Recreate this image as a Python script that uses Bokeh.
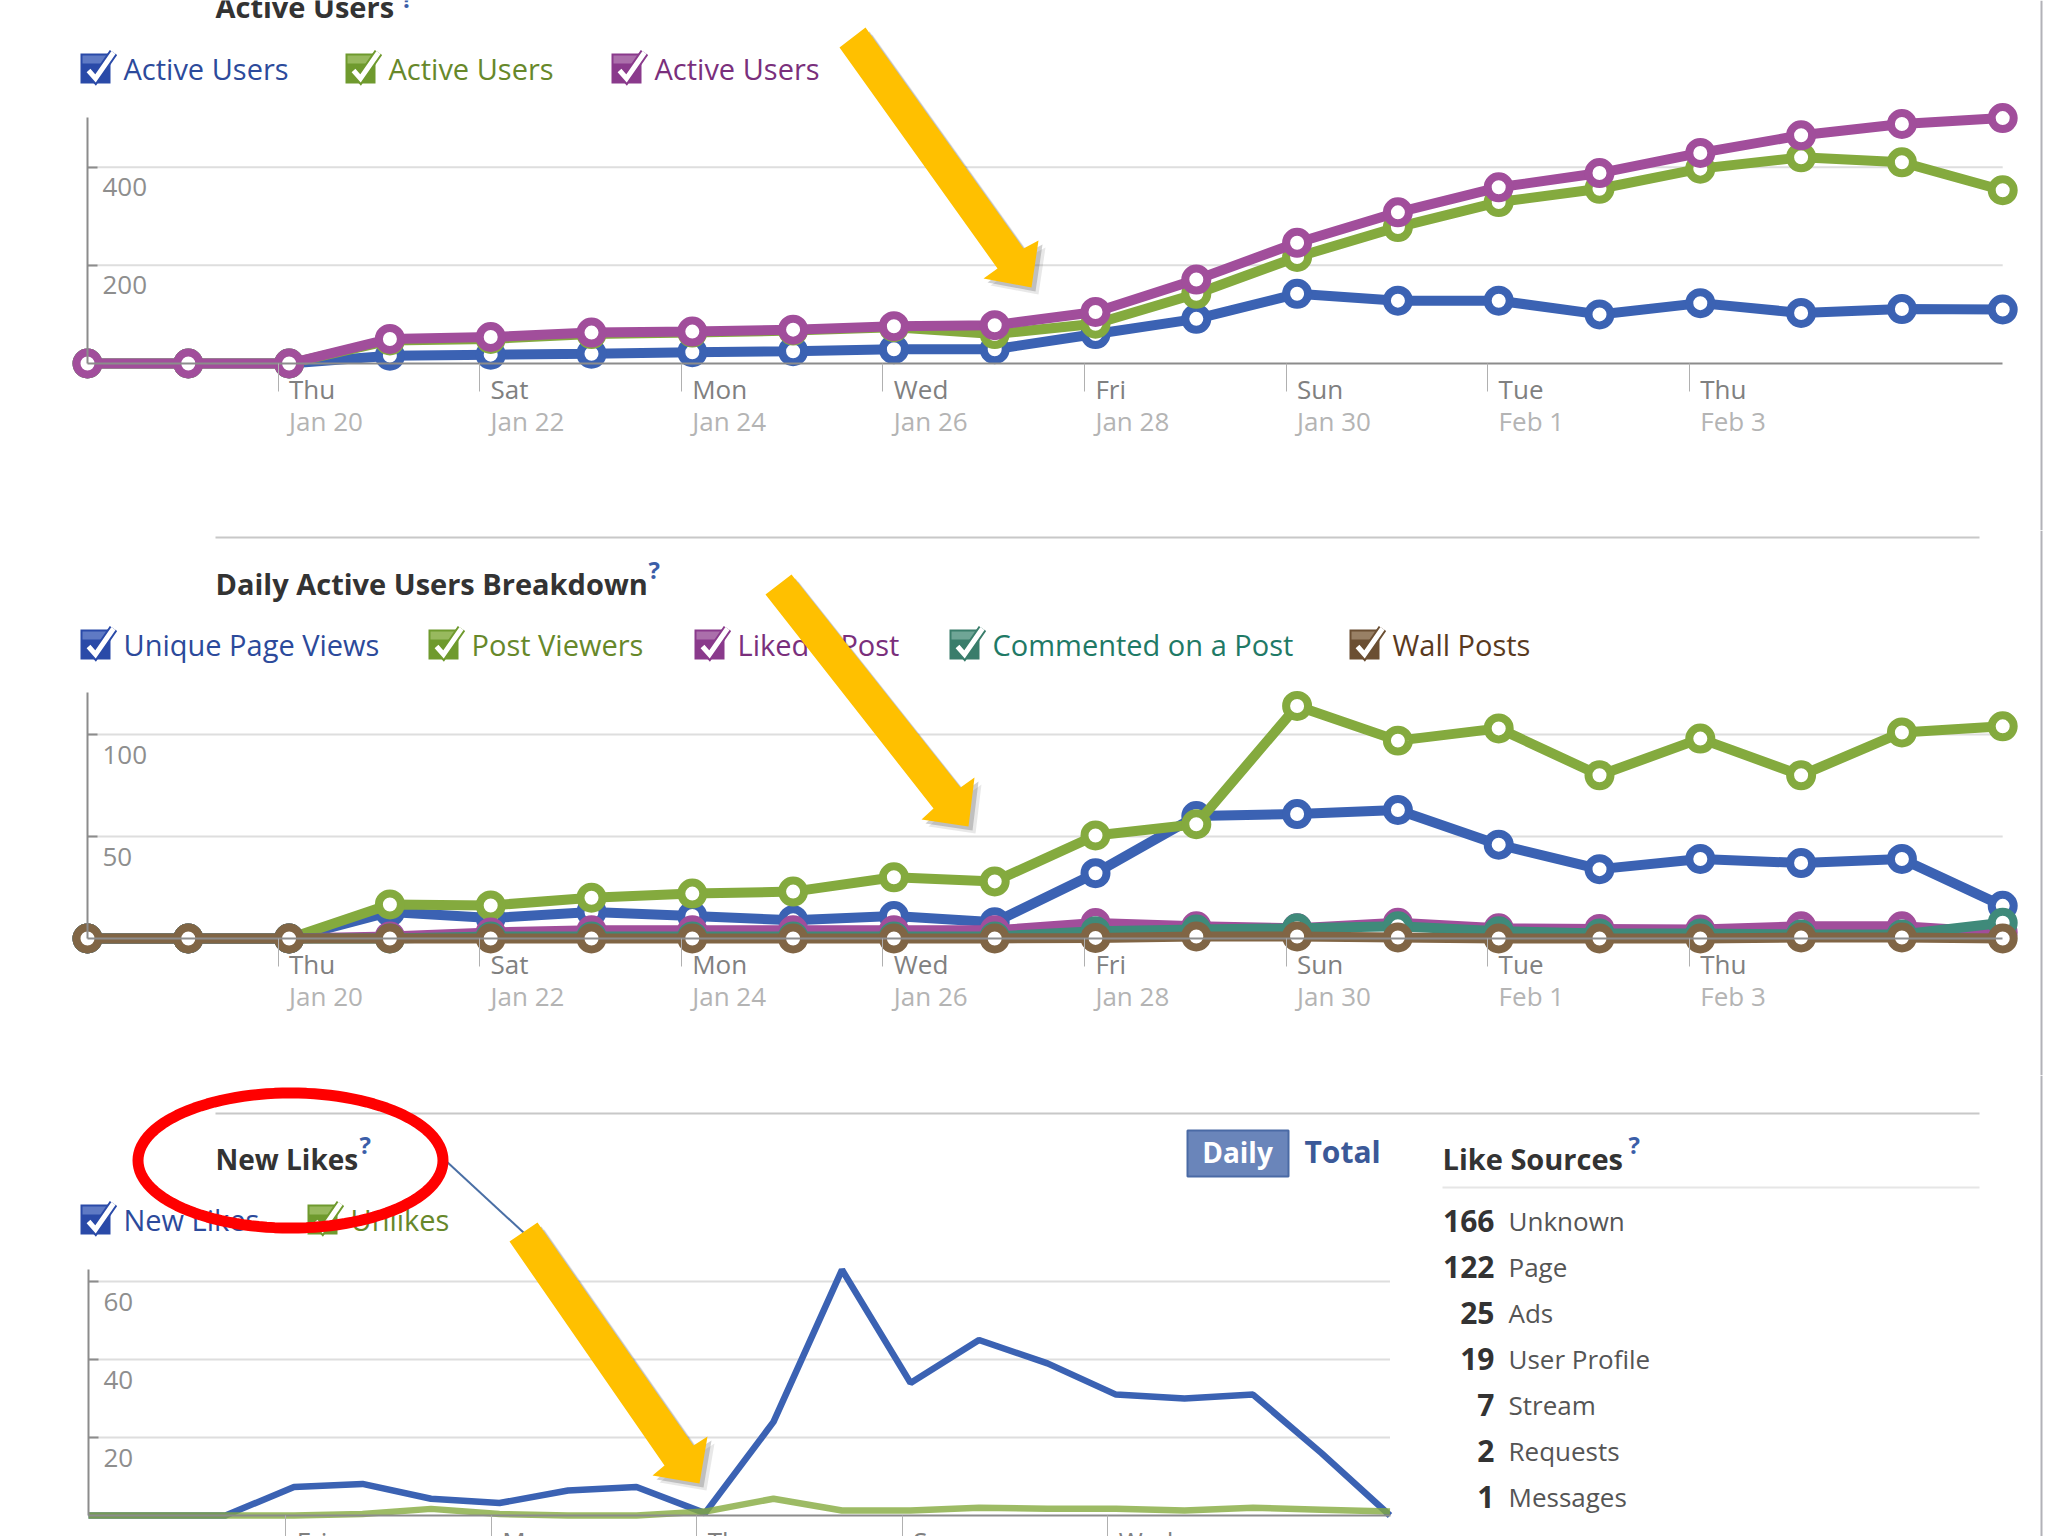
import numpy as np
from bokeh.core.properties import value
from bokeh.embed import file_html
from bokeh.layouts import column
from bokeh.models import FixedTicker, LinearAxis, Range1d
from bokeh.plotting import figure
from bokeh.resources import INLINE

# daily values, Jan 18 .. Feb 6
active_blue = [0, 0, 0, 16, 18, 20, 23, 25, 29, 29, 60, 91, 142, 128, 128, 100, 123, 103, 111, 110]
active_green = [0, 0, 0, 47, 50, 60, 63, 67, 74, 60, 81, 142, 217, 278, 329, 356, 397, 420, 410, 353]
active_purple = [0, 0, 0, 50, 54, 63, 65, 69, 76, 78, 105, 171, 246, 308, 359, 388, 429, 465, 488, 500]

views = [0, 0, 0, 13, 10, 13, 11, 9, 11, 8, 32, 60, 61, 63, 46, 34, 39, 37, 39, 16]
viewers = [0, 0, 0, 16.7, 16.2, 20, 22, 23, 30, 28, 50.5, 56, 114, 97, 103, 80, 98, 80, 101, 104]
liked = [0, 0, 0, 1, 3, 4, 4, 4, 4, 4, 7.6, 6, 5, 7.7, 5, 4.7, 4.4, 6, 6, 3]
commented = [0, 0, 0, 0, 1, 1, 1, 1, 1, 1, 3.6, 4.4, 5, 6, 3.6, 2.5, 2.5, 2, 2, 7.7]
wall = [0, 0, 0, 0, 0, 0, 0, 0, 0, 0, 0.3, 1, 1, 0.5, 0, 0, 0, 0.5, 0.5, 0]

new_likes = [0, 0, 0, 7.3, 8.1, 4.3, 3.2, 6.4, 7.3, 0.6, 24, 63, 34, 45, 39, 31, 30, 31, 16, 0]
unlikes = [0, 0, 0, 0, 0.4, 1.7, 0.4, 0, 0, 1, 4.3, 1.3, 1.3, 2, 1.7, 1.7, 1.3, 2, 1.5, 1]

days = list(range(20))
tick_days_a = [2, 4, 6, 8, 10, 12, 14, 16]
tick_names_a = ["Thu", "Sat", "Mon", "Wed", "Fri", "Sun", "Tue", "Thu"]
tick_dates_a = ["Jan 20", "Jan 22", "Jan 24", "Jan 26", "Jan 28", "Jan 30", "Feb 1", "Feb 3"]
tick_days_b = [3, 6, 9, 12, 15]
tick_names_b = ["Fri", "Mon", "Thu", "Sun", "Wed"]

source_counts = ["166", "122", "25", "19", "7", "2", "1"]
source_names = ["Unknown", "Page", "Ads", "User Profile", "Stream", "Requests", "Messages"]

BLUE = "#3b62b3"
GREEN = "#84aa3e"
PURPLE = "#a14e9b"
TEAL = "#3f8a7a"
BROWN = "#806545"
FONT = value("Open Sans")
WIDTH = 2048
PX = dict(x_range_name="px", y_range_name="px")


def panel(top, bottom, x0, dx, zero, k, yticks, ytop, tick_days, shift, tick_names, tick_dates):
    # frame fills the figure, ranges are set so the data lands where the screenshot has it
    p = figure(width=WIDTH, height=bottom - top, output_backend="svg", toolbar_location=None,
               x_axis_location=None, y_axis_location=None, min_border=0,
               x_range=Range1d(-x0 / dx, (WIDTH - x0) / dx),
               y_range=Range1d((zero - bottom) / k, (zero - top) / k))
    p.grid.visible = False
    p.outline_line_color = None
    p.background_fill_color = "white"
    p.border_fill_color = "white"
    p.extra_x_ranges = {"px": Range1d(0, WIDTH)}
    p.extra_y_ranges = {"px": Range1d(bottom, top)}

    p.segment(x0=[0] * len(yticks), x1=[19] * len(yticks), y0=yticks, y1=yticks,
              line_color="#dedede", line_width=2)
    ticks = [d + shift for d in tick_days]
    yaxis = LinearAxis(fixed_location=0, bounds=(0, ytop), ticker=FixedTicker(ticks=yticks),
                       axis_line_color="#8c8c8c", axis_line_width=2, major_tick_line_color="#8c8c8c",
                       major_tick_line_width=2, major_tick_in=10, major_tick_out=0,
                       major_label_text_color=None, minor_tick_line_color=None)
    xaxis = LinearAxis(fixed_location=0, bounds=(0, 19), ticker=FixedTicker(ticks=ticks),
                       axis_line_color="#8c8c8c", axis_line_width=2, major_tick_line_color="#b0b0b0",
                       major_tick_line_width=1, major_tick_in=0, major_tick_out=28,
                       major_label_text_color=None, minor_tick_line_color=None)
    p.add_layout(yaxis, "left")
    p.add_layout(xaxis, "below")

    p.text(x=[0] * len(yticks), y=yticks, text=[str(t) for t in yticks], x_offset=15, y_offset=20,
           text_font=FONT, text_font_size="26px", text_color="#8e8e8e", text_baseline="alphabetic")
    p.text(x=ticks, y=[0] * len(ticks), text=tick_names, x_offset=11, y_offset=25,
           text_font=FONT, text_font_size="26px", text_color="#808080", text_baseline="alphabetic")
    if tick_dates:
        p.text(x=ticks, y=[0] * len(ticks), text=tick_dates, x_offset=11, y_offset=57,
               text_font=FONT, text_font_size="26px", text_color="#b4b4b4", text_baseline="alphabetic")

    p.line([2041, 2041], [top, bottom], line_color="#b2b2b8", line_width=2, **PX)
    return p


def heading(p, x, y, label, qx, qy, size="29px"):
    p.text([x], [y], text=[label], text_font=FONT, text_font_style="bold", text_font_size=size,
           text_color="#333333", text_baseline="alphabetic", **PX)
    p.text([qx], [qy], text=["?"], text_font=FONT, text_font_style="bold", text_font_size="24px",
           text_color="#3b5ea8", text_baseline="alphabetic", **PX)


def legend_item(p, x, y, label, box, band, text_color):
    # checkbox made of plain shapes
    p.quad(left=[x], right=[x + 30], top=[y], bottom=[y + 30], fill_color=box, line_color=None, **PX)
    p.quad(left=[x + 2], right=[x + 28], top=[y + 2], bottom=[y + 10], fill_color=band, line_color=None, **PX)
    xs = [x + 8, x + 15, x + 33]
    ys = [y + 17, y + 25, y - 1]
    p.line(xs, ys, line_color=box, line_width=9, line_join="miter", **PX)
    p.line(xs, ys, line_color="white", line_width=5, line_join="miter", **PX)
    p.text([x + 43], [y + 15], text=[label], text_font=FONT, text_font_size="29px",
           text_color=text_color, text_baseline="alphabetic", **PX)


def arrow(p, xs, ys):
    for off, alpha in [(7, 0.12), (4, 0.25)]:
        p.patch([v + off for v in xs], [v + off for v in ys], fill_color="#444444",
                fill_alpha=alpha, line_color=None, **PX)
    p.patch(xs, ys, fill_color="#ffc000", line_color=None, **PX)


def ring_series(p, values, color):
    p.line(days, values, line_color=color, line_width=10)
    p.scatter(days, values, size=22, fill_color="white", line_color=color, line_width=8)


# top chart
p1 = panel(0, 530, 87, 100.8, 363, 0.4908, [200, 400], 501, tick_days_a, -0.11, tick_names_a, tick_dates_a)
heading(p1, 215, 6, "Active Users", 401, -2)
legend_item(p1, 80, 53, "Active Users", "#2a4aa8", "#5f7ac4", "#2c4a9b")
legend_item(p1, 345, 53, "Active Users", "#6f9a2e", "#98b95e", "#67882a")
legend_item(p1, 611, 53, "Active Users", "#8a3a8c", "#ab6fab", "#7a2f7c")
for vals, col in [(active_blue, BLUE), (active_green, GREEN), (active_purple, PURPLE)]:
    ring_series(p1, vals, col)
arrow(p1, [865, 839, 997, 983, 1031, 1038, 1023], [27, 47, 268, 278, 287, 240, 248])

# middle chart
p2 = panel(530, 1075, 87, 100.8, 938, 2.04, [50, 100], 120.6, tick_days_a, -0.11, tick_names_a, tick_dates_a)
p2.line([215, 1979], [537, 537], line_color="#c8c8c8", line_width=2, **PX)
heading(p2, 215, 583, "Daily Active Users Breakdown", 648, 569)
legend_item(p2, 80, 629, "Unique Page Views", "#2a4aa8", "#5f7ac4", "#2c4a9b")
legend_item(p2, 428, 629, "Post Viewers", "#6f9a2e", "#98b95e", "#67882a")
legend_item(p2, 694, 629, "Liked a Post", "#8a3a8c", "#ab6fab", "#7a2f7c")
legend_item(p2, 949, 629, "Commented on a Post", "#3a7d6b", "#6fa596", "#1f7a66")
legend_item(p2, 1349, 629, "Wall Posts", "#6b4f33", "#988065", "#5a3a1e")
for vals, col in [(views, BLUE), (viewers, GREEN), (liked, PURPLE), (commented, TEAL), (wall, BROWN)]:
    ring_series(p2, vals, col)
arrow(p2, [791, 765, 933, 921, 968, 974, 960], [574, 594, 808, 819, 826, 777, 787])

# bottom chart and the like sources list
p3 = panel(1075, 1536, 88, 68.5, 1515, 3.9, [20, 40, 60], 63, tick_days_b, -0.12, tick_names_b, None)
p3.line([215, 1979], [1113, 1113], line_color="#c8c8c8", line_width=2, **PX)
heading(p3, 215, 1158, "New Likes", 359, 1144, size="28px")
legend_item(p3, 80, 1204, "New Likes", "#2a4aa8", "#5f7ac4", "#2c4a9b")
legend_item(p3, 307, 1204, "Unlikes", "#6f9a2e", "#98b95e", "#67882a")
p3.line(days, new_likes, line_color=BLUE, line_width=6.5)
p3.line(days, unlikes, line_color=GREEN, line_width=6.5, line_alpha=0.8)

p3.quad(left=[1187], right=[1288], top=[1130], bottom=[1176], fill_color="#6a85ba", line_color="#4a6aa5",
        line_width=2, **PX)
p3.text([1237], [1151], text=["Daily"], text_font=FONT, text_font_style="bold", text_font_size="28px",
        text_color="white", text_align="center", text_baseline="alphabetic", **PX)
p3.text([1304], [1151], text=["Total"], text_font=FONT, text_font_style="bold", text_font_size="30px",
        text_color="#3b5998", text_baseline="alphabetic", **PX)

heading(p3, 1442, 1158, "Like Sources", 1628, 1144)
p3.line([1442, 1979], [1187, 1187], line_color="#e6e6e6", line_width=2, **PX)
rows = [1220 + 46 * i for i in range(len(source_names))]
p3.text([1494] * len(rows), rows, text=source_counts, text_font=FONT, text_font_style="bold",
        text_font_size="30px", text_color="#333333", text_align="right", text_baseline="alphabetic", **PX)
p3.text([1508] * len(rows), rows, text=source_names, text_font=FONT, text_font_size="26px",
        text_color="#555555", text_baseline="alphabetic", **PX)

p3.line([445, 523], [1160, 1232], line_color="#4a6fa5", line_width=2, **PX)
t = np.linspace(0, 2 * np.pi, 121)
p3.patch(290 + 152.5 * np.cos(t), 1160 + 67.5 * np.sin(t), fill_color=None, line_color="#ff0000", line_width=11, **PX)
arrow(p3, [537, 509, 664, 652, 699, 707, 693], [1222, 1241, 1465, 1475, 1483, 1436, 1445])

page = column(p1, p2, p3, spacing=0)
open("out.html", "w").write(file_html(page, INLINE))
